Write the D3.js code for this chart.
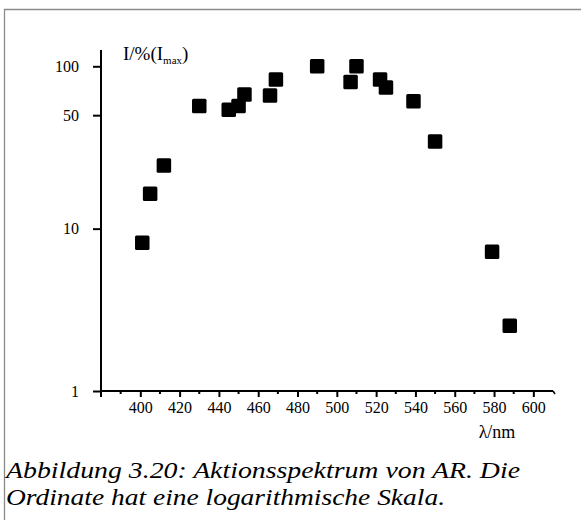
<!DOCTYPE html>
<html><head><meta charset="utf-8">
<script src="https://cdn.jsdelivr.net/npm/d3@7"></script>
<style>
html,body{margin:0;padding:0;background:#fff;}
svg{display:block;}
</style></head>
<body>
<svg id="c" width="581" height="520"></svg>
<script>
const wavelength = [401, 405, 412, 430, 445, 450, 453, 466, 469, 490, 507, 510, 522, 525, 539, 550, 579, 588];
const intensity  = [8.2, 16.4, 24.5, 57, 54, 57, 67, 66, 83, 100, 80, 100, 83, 74, 61, 34.4, 7.2, 2.52];
const xMajorTicks = [400, 420, 440, 460, 480, 500, 520, 540, 560, 580, 600];
const xMinorTicks = [380, 390, 410, 430, 450, 470, 490, 510, 530, 550, 570, 590];
const yTicks = [1, 10, 50, 100];
const xTitle = "λ/nm";
const captionLines = ["Abbildung 3.20: Aktionsspektrum von AR. Die", "Ordinate hat eine logarithmische Skala."];
const captionWidths = [514, 439];

const FONT = "'Liberation Serif', 'Times New Roman', 'DejaVu Serif', serif";
const svg = d3.select("#c");
const x = d3.scaleLinear().domain([380, 610]).range([101, 553]);
const y = d3.scaleLog().domain([1, 126]).range([391, 50]);

// frame
svg.append("path").attr("d", "M4.5,520 L4.5,9.5 L581,9.5")
  .attr("fill", "none").attr("stroke", "#8a8a8a").attr("stroke-width", 1.3);

// x axis
const gx = svg.append("g").attr("transform", `translate(0,${y(1)})`);
gx.append("line").attr("x1", x(380)).attr("x2", x(610)).attr("stroke", "#000").attr("stroke-width", 2);
gx.call(d3.axisBottom(x).tickValues(xMajorTicks).tickSize(6).tickPadding(5).tickFormat(d3.format("d")))
  .call(g => g.select(".domain").remove())
  .call(g => g.selectAll(".tick line").attr("stroke-width", 2))
  .call(g => g.selectAll(".tick text").attr("font-size", 16).style("font-family", FONT));
gx.selectAll("line.minor").data(xMinorTicks).join("line").attr("class", "minor")
  .attr("x1", d => x(d)).attr("x2", d => x(d)).attr("y1", 0).attr("y2", d => d === 380 ? 6 : 3)
  .attr("stroke", "#000").attr("stroke-width", 2);
gx.append("line").attr("x1", x(610)).attr("x2", x(610) + 2).attr("y1", 0).attr("y2", 3)
  .attr("stroke", "#000").attr("stroke-width", 1.5);

// y axis
const gy = svg.append("g").attr("transform", `translate(${x(380)},0)`);
gy.append("line").attr("y1", y(1)).attr("y2", y(126)).attr("stroke", "#000").attr("stroke-width", 2);
gy.call(d3.axisLeft(y).tickValues(yTicks).tickSize(8).tickPadding(14).tickFormat(d3.format("d")))
  .call(g => g.select(".domain").remove())
  .call(g => g.selectAll(".tick line").attr("stroke-width", 2))
  .call(g => g.selectAll(".tick text").attr("font-size", 16).style("font-family", FONT));

// y title
const yt = svg.append("text").attr("x", 123).attr("y", 60).attr("font-size", 19).style("font-family", FONT);
yt.append("tspan").text("I/%(I");
yt.append("tspan").attr("font-size", 11).attr("dy", 4).text("max");
yt.append("tspan").attr("dy", -4).text(")");

// x title
svg.append("text").attr("x", 497).attr("y", 438).attr("text-anchor", "middle").attr("font-size", 18)
  .style("font-family", FONT).text(xTitle);

// points
const s = 14.5;
svg.selectAll("rect.pt").data(wavelength.map((w, i) => [w, intensity[i]])).join("rect")
  .attr("class", "pt")
  .attr("x", d => x(d[0]) - s / 2).attr("y", d => y(d[1]) - s / 2)
  .attr("width", s).attr("height", s).attr("rx", 1.5).attr("fill", "#000");

// caption
svg.selectAll("text.cap").data(captionLines).join("text").attr("class", "cap")
  .attr("x", 6).attr("y", (d, i) => 478 + i * 27)
  .attr("font-size", 23).attr("font-style", "italic").style("font-family", FONT)
  .attr("textLength", (d, i) => captionWidths[i]).attr("lengthAdjust", "spacingAndGlyphs")
  .text(d => d);
</script>
</body></html>
